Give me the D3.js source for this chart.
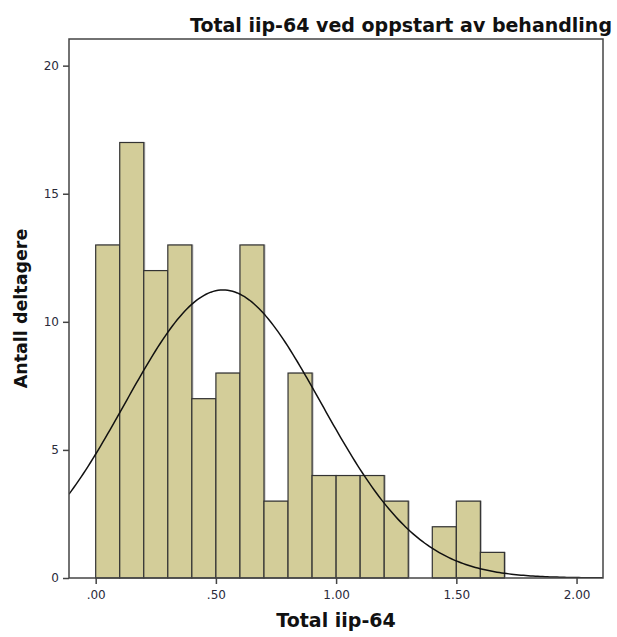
<!DOCTYPE html>
<html>
<head>
<meta charset="utf-8">
<script src="https://cdn.jsdelivr.net/npm/d3@7"></script>
<style>
  body { margin: 0; background: #fff; }
  svg { display: block; }
</style>
</head>
<body>
<svg width="617" height="637"></svg>
<script>
// histogram bins (lower edge) and counts, bin width 0.1
const binStarts = [0.0, 0.1, 0.2, 0.3, 0.4, 0.5, 0.6, 0.7, 0.8, 0.9, 1.0, 1.1, 1.2, 1.3, 1.4, 1.5, 1.6];
const counts    = [13, 17, 12, 13, 7, 8, 13, 3, 8, 4, 4, 4, 3, 0, 2, 3, 1];
const binWidth = 0.1;
// fitted normal curve (SPSS overlay)
const mean = 0.53;
const stdDev = 0.408;
const xTicks = [0, 0.5, 1.0, 1.5, 2.0];
const yTicks = [0, 5, 10, 15, 20];

const titleText = "Total iip-64 ved oppstart av behandling";
const xLabel = "Total iip-64";
const yLabel = "Antall deltagere";

const svg = d3.select("svg");
const plot = { left: 69, right: 603, top: 39, bottom: 578 };

const x = d3.scaleLinear().domain([-0.111, 2.11]).range([plot.left, plot.right]);
const y = d3.scaleLinear().domain([0, 21.04]).range([plot.bottom, plot.top]);

const n = d3.sum(counts);

svg.append("defs").append("clipPath").attr("id", "clip")
  .append("rect")
  .attr("x", plot.left).attr("y", plot.top)
  .attr("width", plot.right - plot.left).attr("height", plot.bottom - plot.top);

const bars = binStarts.map((b, i) => ({ x0: b, x1: b + binWidth, count: counts[i] })).filter(d => d.count > 0);

// soft shadow behind bars
svg.append("g").selectAll("rect").data(bars).enter().append("rect")
  .attr("x", d => x(d.x0) + 1.5)
  .attr("y", d => y(d.count) - 0.5)
  .attr("width", d => x(d.x1) - x(d.x0))
  .attr("height", d => y(0) - y(d.count))
  .style("fill", "#b8b8b8");

svg.append("g").selectAll("rect").data(bars).enter().append("rect")
  .attr("x", d => x(d.x0))
  .attr("y", d => y(d.count))
  .attr("width", d => x(d.x1) - x(d.x0))
  .attr("height", d => y(0) - y(d.count))
  .style("fill", "#d3cd99")
  .style("stroke", "#333")
  .style("stroke-width", 1.2);

// normal curve
const dens = v => n * binWidth / (stdDev * Math.sqrt(2 * Math.PI)) * Math.exp(-0.5 * Math.pow((v - mean) / stdDev, 2));
const curvePts = d3.range(x.domain()[0], x.domain()[1] + 0.001, 0.01).map(v => [v, dens(v)]);
svg.append("path")
  .attr("clip-path", "url(#clip)")
  .attr("d", d3.line().x(d => x(d[0])).y(d => y(d[1]))(curvePts))
  .style("fill", "none")
  .style("stroke", "#111")
  .style("stroke-width", 1.5);

// frame
svg.append("rect")
  .attr("x", plot.left).attr("y", plot.top)
  .attr("width", plot.right - plot.left).attr("height", plot.bottom - plot.top)
  .style("fill", "none")
  .style("stroke", "#444")
  .style("stroke-width", 1.5);

// axes
const fmtX = v => v === 0 ? ".00" : (v < 1 ? d3.format(".2f")(v).replace(/^0/, "") : d3.format(".2f")(v));
const xAxis = svg.append("g")
  .attr("transform", `translate(0,${plot.bottom})`)
  .call(d3.axisBottom(x).tickValues(xTicks).tickFormat(fmtX).tickSize(6).tickPadding(6));
const yAxis = svg.append("g")
  .attr("transform", `translate(${plot.left},0)`)
  .call(d3.axisLeft(y).tickValues(yTicks).tickSize(6).tickPadding(4));

[xAxis, yAxis].forEach(a => {
  a.select(".domain").remove();
  a.selectAll("line").style("stroke", "#444").style("stroke-width", 1.5);
  a.selectAll("text")
    .style("font-family", "DejaVu Sans, sans-serif")
    .style("font-size", "12px")
    .style("fill", "#2a2a3a");
});

// titles
svg.append("text")
  .attr("x", 612).attr("y", 32)
  .attr("text-anchor", "end")
  .style("font-family", "DejaVu Sans, sans-serif")
  .style("font-weight", "bold")
  .style("font-size", "19px")
  .style("fill", "#111")
  .text(titleText);

svg.append("text")
  .attr("x", (plot.left + plot.right) / 2).attr("y", 627)
  .attr("text-anchor", "middle")
  .style("font-family", "DejaVu Sans, sans-serif")
  .style("font-weight", "bold")
  .style("font-size", "19px")
  .style("fill", "#111")
  .text(xLabel);

svg.append("text")
  .attr("transform", `translate(27,${(plot.top + plot.bottom) / 2}) rotate(-90)`)
  .attr("text-anchor", "middle")
  .style("font-family", "DejaVu Sans, sans-serif")
  .style("font-weight", "bold")
  .style("font-size", "17.5px")
  .style("fill", "#111")
  .text(yLabel);
</script>
</body>
</html>
